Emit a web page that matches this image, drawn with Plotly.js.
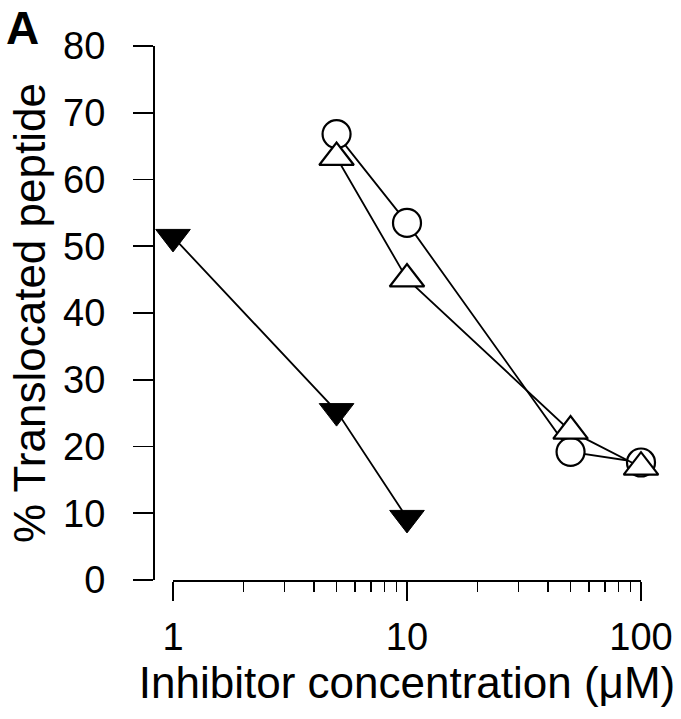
<!DOCTYPE html>
<html>
<head>
<meta charset="utf-8">
<script src="https://cdn.plot.ly/plotly-3.0.1.min.js"></script>
<style>html,body{margin:0;padding:0;background:#fff;}#chart{width:681px;height:719px;}</style>
</head>
<body>
<div id="chart"></div>
<script>
// Data
const filledX = [1, 5, 10];
const filledY = [51.4, 25.3, 9.3];
const circleX = [5, 10, 50, 100];
const circleY = [66.8, 53.5, 19.2, 17.6];
const triX = [5, 10, 50, 100];
const triY = [63.3, 45.1, 22.3, 16.9];
const xTickVals = [1, 10, 100];
const xTickText = ['1', '10', '100'];
const yTickVals = [0, 10, 20, 30, 40, 50, 60, 70, 80];

const FONT = 'Liberation Sans, Arial, Helvetica, sans-serif';

const traces = [
  {
    x: filledX, y: filledY, type: 'scatter', mode: 'lines+markers',
    line: {color: '#000', width: 1.8},
    marker: {symbol: 'triangle-down', size: 30, color: '#000', line: {color: '#000', width: 1}},
    cliponaxis: false, showlegend: false
  },
  {
    x: circleX, y: circleY, type: 'scatter', mode: 'lines+markers',
    line: {color: '#000', width: 1.8},
    marker: {symbol: 'circle', size: 28, color: '#fff', line: {color: '#000', width: 2.2}},
    cliponaxis: false, showlegend: false
  },
  {
    x: triX, y: triY, type: 'scatter', mode: 'lines+markers',
    line: {color: '#000', width: 1.8},
    marker: {symbol: 'triangle-up', size: 30, color: '#fff', line: {color: '#000', width: 2.2}},
    cliponaxis: false, showlegend: false
  }
];

const layout = {
  width: 681, height: 719,
  paper_bgcolor: '#fff', plot_bgcolor: '#fff',
  margin: {l: 153, r: 40, t: 46, b: 139},
  font: {family: FONT, color: '#000'},
  xaxis: {
    type: 'log', range: [0, 2], domain: [20/488, 1],
    anchor: 'y',
    showline: true, linecolor: '#000', linewidth: 1.8,
    showgrid: false, zeroline: false,
    ticks: 'outside', ticklen: 19, tickwidth: 1.8, tickcolor: '#000',
    tickvals: xTickVals, ticktext: xTickText,
    tickfont: {family: FONT, size: 38, color: '#000'},
    ticklabelstandoff: 4,
    minor: {ticks: 'outside', ticklen: 10, tickwidth: 1.5, tickcolor: '#000', dtick: 'D1', showgrid: false},
    title: {text: 'Inhibitor concentration (μM)', font: {family: FONT, size: 44, color: '#000'}, standoff: 4},
    automargin: false
  },
  yaxis: {
    range: [0, 80], anchor: 'free', position: 0,
    showline: true, linecolor: '#000', linewidth: 1.8,
    showgrid: false, zeroline: false,
    ticks: 'outside', ticklen: 20, tickwidth: 1.8, tickcolor: '#000',
    tickvals: yTickVals,
    tickfont: {family: FONT, size: 38, color: '#000'},
    ticklabelstandoff: 20,
    title: {text: '% Translocated peptide', font: {family: FONT, size: 44, color: '#000'}, standoff: 2},
    automargin: false
  },
  annotations: [
    {text: '<b>A</b>', xref: 'paper', yref: 'paper', x: -153/488, y: 1 + 46/534, xanchor: 'left', yanchor: 'top',
     showarrow: false, font: {family: FONT, size: 46, color: '#000'}, xshift: 4, yshift: 0}
  ]
};

Plotly.newPlot('chart', traces, layout, {displayModeBar: false, staticPlot: true});
</script>
</body>
</html>
